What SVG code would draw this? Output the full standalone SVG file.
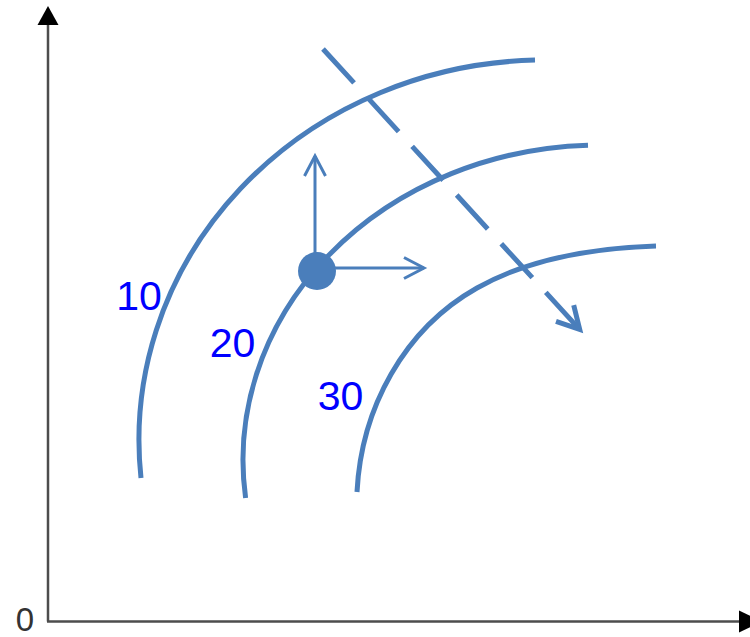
<svg xmlns="http://www.w3.org/2000/svg" width="750" height="637" viewBox="0 0 750 637">
<style>
.axis{stroke:#4d4d4d;stroke-width:2.5;fill:none}
.head{fill:#000}
.arc{fill:none;stroke:#4a7ebb;stroke-width:5;stroke-linecap:butt}
.lbl{font-family:"Liberation Sans",Arial,sans-serif;font-size:41px;fill:#0000ff;text-anchor:middle}
.zero{font-family:"Liberation Sans",Arial,sans-serif;font-size:33px;fill:#333;text-anchor:middle}
.vec{fill:none;stroke:#4a7ebb;stroke-width:3}
.dash{fill:none;stroke:#4a7ebb;stroke-width:5;stroke-dasharray:46 20}
</style>
<defs>
<marker id="chev" markerUnits="userSpaceOnUse" orient="auto" overflow="visible" refX="0" refY="0" markerWidth="1" markerHeight="1">
<path d="M-20,-10.5 L0,0 L-20,10.5" fill="none" stroke="#4a7ebb" stroke-width="3"/>
</marker>
<marker id="chevBig" markerUnits="userSpaceOnUse" orient="auto" overflow="visible" refX="-4" refY="0" markerWidth="1" markerHeight="1">
<path d="M-22,-12 L0,0 L-22,12" fill="none" stroke="#4a7ebb" stroke-width="5"/>
</marker>
</defs>
<rect width="750" height="637" fill="#fff"/>
<g id="axes">
<line class="axis" x1="48" y1="621.5" x2="48" y2="22"/>
<polygon class="head" points="48,6 37.5,25 58.5,25"/>
<line class="axis" x1="47" y1="621.5" x2="742" y2="621.5"/>
<polygon class="head" points="762,621.5 739,610.5 739,632.5"/>
<text class="zero" x="25" y="631">0</text>
</g>
<g id="contour-10">
<path class="arc" d="M141,478 A406,380 0 0 1 535,60.1"/>
<text class="lbl" x="139" y="310">10</text>
</g>
<g id="contour-20">
<path class="arc" d="M245.6,498 A357,315 0 0 1 588,145.2"/>
<text class="lbl" x="232.5" y="357">20</text>
</g>
<g id="contour-30">
<path class="arc" d="M357,492 C361.3,408.1 403.9,329.2 477,288 C530.9,257.6 594,247.9 656,246"/>
<text class="lbl" x="340.5" y="410">30</text>
</g>
<g id="point">
<circle cx="317" cy="271" r="19" fill="#4a7ebb"/>
</g>
<g id="connectors">
<path class="vec" d="M315,262 L315,156" marker-end="url(#chev)"/>
<path class="vec" d="M325,268 L424,268" marker-end="url(#chev)"/>
<path class="dash" d="M323,49 L577,326.5" marker-end="url(#chevBig)"/>
</g>
</svg>
